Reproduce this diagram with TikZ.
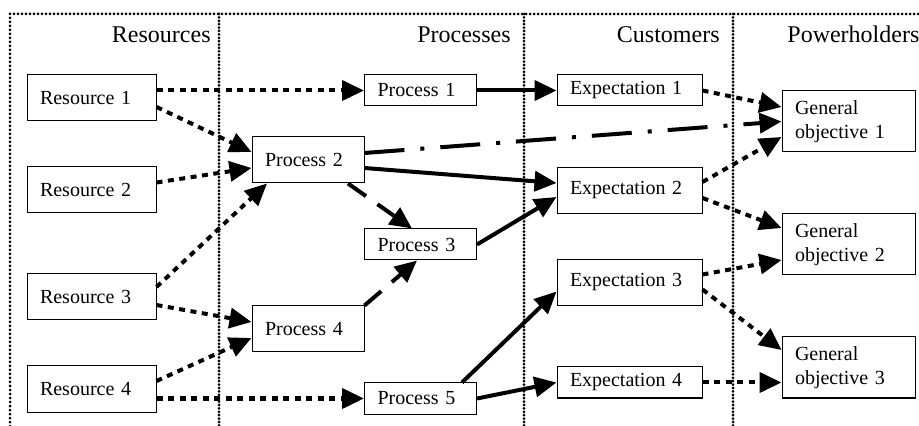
\documentclass[tikz,border=0pt]{standalone}
\usepackage{fontspec}
\setmainfont{Liberation Serif}
\usetikzlibrary{calc,arrows.meta}
\tikzstyle{box} = [rectangle, draw, line width=0.5pt, align=left, inner xsep=6.5pt, minimum height=15.5pt, font=\fontsize{10}{12}\selectfont]
\tikzstyle{resource} = [box, text width=51.5pt, minimum height=23pt]
\tikzstyle{process} = [box, text width=43pt]
\tikzstyle{expectation} = [box, text width=59.5pt]
\tikzstyle{objective} = [box, text width=53.5pt, minimum height=30.5pt]
\tikzstyle{header} = [inner sep=0pt, font=\fontsize{12}{14}\selectfont]
\tikzstyle{border} = [line width=1.5pt, line cap=round, dash pattern=on 0pt off 2pt]
\tikzstyle{divider} = [line width=1.5pt, line cap=round, dash pattern=on 0pt off 1.7pt]
\tikzstyle{connector} = [line width=2pt,-{Triangle[length=11pt,width=10pt]}]
\tikzstyle{dotline} = [connector, dash pattern=on 3pt off 2.75pt]
\tikzstyle{dashline} = [connector, dash pattern=on 11pt off 7pt]
\tikzstyle{dashdotline} = [connector, dash pattern=on 20pt off 8pt on 2pt off 8pt]
\begin{document}
\begin{tikzpicture}[x=0.5pt, y=-0.5pt, node distance = 46pt]
            \useasboundingbox (0,0) rectangle (919,426);
            % frame and columns
            \draw [border] (10,426) -- (10,14) -- (919,14);
            \foreach \x in {219,524,733}
                \draw [divider] (\x,14) -- (\x,426);
            \node (hres) [header, anchor=base east] at (211,43) {Resources};
            \node (hproc) [header, anchor=base east] at (511,43) {Processes};
            \node (hcust) [header, anchor=base east] at (720,43) {Customers};
            \node (hpow) [header, anchor=base west] at (787,43) {Powerholders};
            % resources
            \node (r1) [resource] at (91.5,98) {Resource 1};
            \node (r2) [resource, below of = r1] {Resource 2};
            \node (r3) [resource, below of = r2, yshift=-7.5pt] {Resource 3};
            \node (r4) [resource, below of = r3] {Resource 4};
            % processes
            \node (p1) [process] at (420.5,90.5) {Process 1};
            \node (p2) [process, minimum height=23pt] at (308,160) {Process 2};
            \node (p3) [process, below of = p1, yshift=-31pt] {Process 3};
            \node (p4) [process, minimum height=23pt, below of = p2, yshift=-38.5pt] {Process 4};
            \node (p5) [process, below of = p3, yshift=-31pt] {Process 5};
            % customers
            \node (e1) [expectation] at (629.5,90.5) {Expectation 1};
            \node (e2) [expectation, minimum height=23pt, below of = e1, yshift=-4pt] {Expectation 2};
            \node (e3) [expectation, minimum height=23pt, below of = e2] {Expectation 3};
            \node (e4) [expectation, below of = e3, yshift=-4pt] {Expectation 4};
            % powerholders
            \node (g1) [objective] at (848.5,121.5) {General\\objective 1};
            \node (g2) [objective, below of = g1, yshift=-15.5pt] {General\\objective 2};
            \node (g3) [objective, below of = g2, yshift=-15.5pt] {General\\objective 3};
            % resources to processes
            \draw [dotline] (p1.west -| r1.east) -- (p1.west);
            \draw [dotline] ($(r1.east)+(0,-4.5pt)$) -- ($(p2.west)+(0,4pt)$);
            \draw [dotline] ($(r2.east)+(0,3.75pt)$) -- ($(p2.west)+(0,-4pt)$);
            \draw [dotline] ($(r3.east)+(0,5pt)$) -- ($(p2.south)+(-20.5pt,0)$);
            \draw [dotline] ($(r3.east)+(0,-4pt)$) -- ($(p4.west)+(0,3.5pt)$);
            \draw [dotline] ($(r4.east)+(0,4pt)$) -- ($(p4.west)+(0,-4.5pt)$);
            \draw [dotline] (p5.west -| r4.east) -- (p5.west);
            % processes
            \draw [dashline] ($(p2.south)+(20pt,0)$) -- ($(p3.north)+(-4.25pt,0)$);
            \draw [dashline] (p4.north east) -- ($(p3.south)+(-1.75pt,0)$);
            \draw [dashdotline] ($(p2.east)+(0,3.5pt)$) -- (g1.west);
            % processes to customers
            \draw [connector] (p1) -- (e1);
            \draw [connector] ($(p2.east)+(0,-4pt)$) -- ($(e2.west)+(0,3.75pt)$);
            \draw [connector] (p3.east) -- ($(e2.west)+(0,-3.25pt)$);
            \draw [connector] ($(p5.north)+(20.75pt,0)$) -- ($(e3.west)+(0,-4.5pt)$);
            \draw [connector] (p5.east) -- (e4.west);
            % customers to powerholders
            \draw [dotline] (e1.east) -- ($(g1.west)+(0,7.25pt)$);
            \draw [dotline] ($(e2.east)+(0,4.25pt)$) -- ($(g1.west)+(0,-7.75pt)$);
            \draw [dotline] ($(e2.east)+(0,-3.75pt)$) -- ($(g2.west)+(0,8.25pt)$);
            \draw [dotline] ($(e3.east)+(0,4pt)$) -- ($(g2.west)+(0,-7.75pt)$);
            \draw [dotline] ($(e3.east)+(0,-3.5pt)$) -- ($(g3.west)+(0,8.75pt)$);
            \draw [dotline] (e4.east) -- (e4.east -| g3.west);
        \end{tikzpicture}
\end{document}
